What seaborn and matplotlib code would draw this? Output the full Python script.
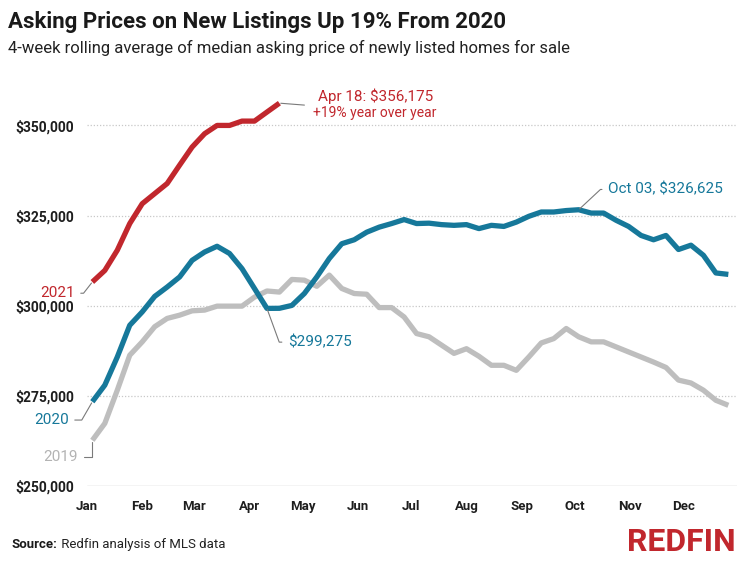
import pandas as pd
import numpy as np
import matplotlib
matplotlib.use("Agg")
import matplotlib.pyplot as plt
import matplotlib.dates as mdates
from matplotlib import font_manager
import seaborn as sns

# weekly 4-week rolling median asking price
prices_2019 = [262700, 267400, 276600, 286300, 290000, 294200, 296500, 297400, 298600, 298800,
               299900, 299900, 299900, 302400, 304100, 303800, 307300, 307100, 305400, 308500,
               304800, 303400, 303200, 299500, 299500, 296900, 292300, 291400, 289100, 286800,
               288100, 286000, 283500, 283500, 282100, 285800, 289700, 290900, 293700, 291400,
               290000, 290000, 288600, 287200, 285800, 284400, 282900, 279400, 278600, 276600,
               273800, 272400]
prices_2020 = [273400, 278000, 285800, 294600, 298300, 302600, 305200, 308000, 312600, 314900,
               316500, 314500, 310300, 304800, 299275, 299300, 300100, 303400, 308000, 313100,
               317200, 318300, 320400, 321800, 322800, 323900, 322800, 322900, 322500, 322300,
               322500, 321400, 322300, 322000, 323200, 324800, 326000, 326000, 326400, 326625,
               325700, 325700, 323700, 322000, 319500, 318300, 319500, 315600, 316800, 314000,
               309100, 308700]
prices_2021 = [306600, 309800, 315400, 322800, 328300, 331100, 333900, 339000, 344000, 347700,
               350000, 350000, 351200, 351200, 353700, 356175]

years = ["2019", "2020", "2021"]
colors = {"2019": "#BEBEBE", "2020": "#16789A", "2021": "#C1272D"}
label_colors = {"2019": "#B3B3B3", "2020": "#16789A", "2021": "#C1272D"}
y_ticks = [250000, 275000, 300000, 325000, 350000]

# all years drawn on one calendar (weeks starting early January)
weeks = pd.date_range("2020-01-04", periods=52, freq="7D")

frames = []
for yr, vals in zip(years, [prices_2019, prices_2020, prices_2021]):
    frames.append(pd.DataFrame({"week": weeks[:len(vals)], "price": vals, "year": yr}))
df = pd.concat(frames, ignore_index=True)


def pick_font(names):
    avail = {f.name for f in font_manager.fontManager.ttflist}
    for n in names:
        if n in avail:
            return n
    return "DejaVu Sans"


sns.set_theme(style="white")
font = pick_font(["Roboto", "Lato", "Open Sans", "DejaVu Sans"])
plt.rcParams["font.family"] = [font, "DejaVu Sans"]

fig = plt.figure(figsize=(7.5, 5.62), dpi=100)
ax = fig.add_axes([0.116, 0.135, 0.867, 0.706])

for yv in y_ticks[1:]:
    ax.axhline(yv, color="#C8C8C8", lw=0.9, ls=(0, (1, 1.5)), zorder=0)
ax.axhline(y_ticks[0], color="#C8C8C8", lw=1.0, zorder=0)

sns.lineplot(data=df, x="week", y="price", hue="year", hue_order=years,
             palette=colors, linewidth=3.8, legend=False, ax=ax,
             solid_capstyle="butt")

ax.set_xlim(pd.Timestamp("2020-01-01"), pd.Timestamp("2020-12-31"))
ax.set_ylim(250000, 360000)
ax.set_yticks(y_ticks)
ax.yaxis.set_major_formatter(plt.FuncFormatter(lambda v, p: f"${v:,.0f}"))
ax.xaxis.set_major_locator(mdates.MonthLocator())
ax.xaxis.set_major_formatter(mdates.DateFormatter("%b"))
ax.tick_params(axis="y", length=0, pad=9.5, labelsize=10, labelcolor="#1E1E1E")
ax.tick_params(axis="x", length=0, pad=10, labelsize=9.5, labelcolor="#1E1E1E")
for lbl in ax.get_xticklabels() + ax.get_yticklabels():
    lbl.set_fontweight("semibold")
ax.set_xlabel("")
ax.set_ylabel("")
sns.despine(ax=ax, left=True, bottom=True)

lead = dict(arrowstyle="-", color="#7A7A7A", lw=0.8, shrinkA=2, shrinkB=1)

# year labels at the line starts
ax.annotate("2021", xy=(weeks[0], prices_2021[0]), xytext=(-12.7, -8.1), textcoords="offset points",
            ha="right", va="center", fontsize=11, color=label_colors["2021"],
            arrowprops=dict(lead, relpos=(1, 0.5), connectionstyle="angle,angleA=0,angleB=52,rad=0"))
ax.annotate("2020", xy=(weeks[0], prices_2020[0]), xytext=(-17, -13.2), textcoords="offset points",
            ha="right", va="center", fontsize=11, color=label_colors["2020"],
            arrowprops=dict(lead, relpos=(1, 0.5), connectionstyle="angle,angleA=0,angleB=60,rad=0"))
ax.annotate("2019", xy=(weeks[0], prices_2019[0]), xytext=(-10.6, -12.2), textcoords="offset points",
            ha="right", va="center", fontsize=11, color=label_colors["2019"],
            arrowprops=dict(lead, relpos=(1, 0.5), connectionstyle="angle,angleA=0,angleB=90,rad=0"))

# callouts
ax.annotate("$299,275", xy=(weeks[14], prices_2020[14]), xytext=(15.1, -24.3), textcoords="offset points",
            ha="left", va="center", fontsize=11, color=label_colors["2020"],
            arrowprops=dict(lead, relpos=(0, 0.5), connectionstyle="angle,angleA=0,angleB=110,rad=0"))
ax.annotate("Oct 03, $326,625", xy=(weeks[39], prices_2020[39]), xytext=(21.1, 14.6), textcoords="offset points",
            ha="left", va="center", fontsize=11, color=label_colors["2020"],
            arrowprops=dict(lead, relpos=(0, 0.5), connectionstyle="angle,angleA=0,angleB=43,rad=0"))

end = (weeks[len(prices_2021) - 1], prices_2021[-1])
ax.annotate("", xy=end, xytext=(18, -1.4), textcoords="offset points",
            arrowprops=dict(lead, shrinkA=0))
ax.annotate("Apr 18: $356,175", xy=end, xytext=(69, 5), textcoords="offset points",
            ha="center", va="center", fontsize=11, color=label_colors["2021"], annotation_clip=False)
ax.annotate("+19% year over year", xy=end, xytext=(68.4, -7.2), textcoords="offset points",
            ha="center", va="center", fontsize=10, color=label_colors["2021"], annotation_clip=False)

# titles
fig.text(0.011, 0.961, "Asking Prices on New Listings Up 19% From 2020", fontsize=16,
         fontweight="semibold", color="#1A1A1A", va="center", ha="left")
fig.text(0.011, 0.914, "4-week rolling average of median asking price of newly listed homes for sale",
         fontsize=12, color="#222222", va="center", ha="left")

# footer
src = fig.text(0.016, 0.025, "Source:", fontsize=9.5, fontweight="bold", color="#1A1A1A",
               va="baseline", ha="left")
fig.canvas.draw()
ax.annotate(" Redfin analysis of MLS data", xy=(1, 0), xycoords=src, fontsize=9.5,
            color="#222222", va="bottom", ha="left", annotation_clip=False)
fig.text(0.981, 0.019, "REDFIN", fontsize=23, fontweight="bold", color="#C1272D",
         va="baseline", ha="right")

fig.savefig("out.png", dpi=100)
